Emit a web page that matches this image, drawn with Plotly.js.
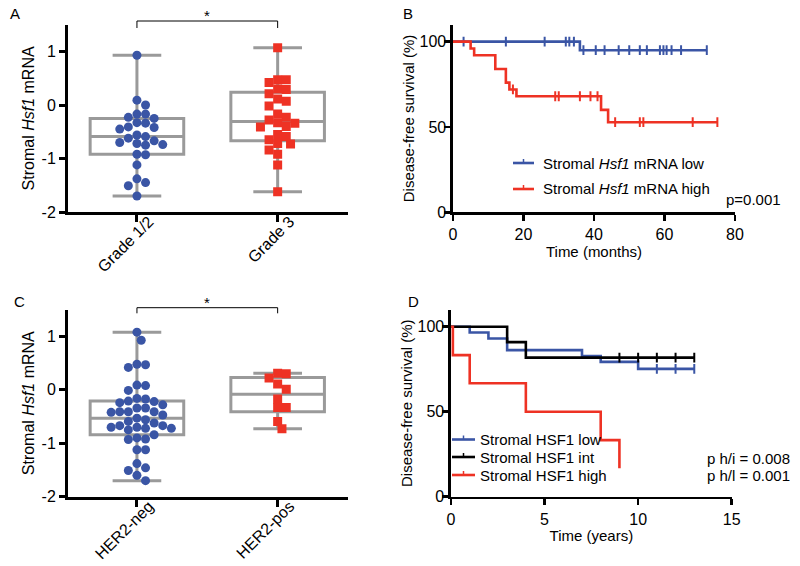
<!DOCTYPE html>
<html><head><meta charset="utf-8">
<script src="https://cdn.plot.ly/plotly-3.0.1.min.js"></script>
<style>html,body{margin:0;padding:0;background:#fff}#chart{width:800px;height:566px}</style>
</head><body><div id="chart"></div>
<script>
// ---------- Panel A : stromal Hsf1 mRNA by grade ----------
const gradeCategories = ['Grade 1/2', 'Grade 3'];
const grade12Values = [0.93, 0.09, 0.00, -0.17, -0.17, -0.23, -0.25, -0.33, -0.34, -0.41, -0.42, -0.45, -0.56, -0.59, -0.62, -0.67, -0.70, -0.72, -0.74, -0.75, -0.92, -0.93, -1.12, -1.38, -1.45, -1.51, -1.70];
const grade3Values = [1.07, 0.47, 0.47, 0.42, 0.30, 0.29, 0.21, 0.11, 0.07, -0.02, -0.17, -0.23, -0.28, -0.33, -0.34, -0.40, -0.41, -0.55, -0.59, -0.65, -0.72, -0.73, -0.84, -0.92, -1.12, -1.62];
// box statistics: [lower whisker, Q1, median, Q3, upper whisker]
const grade12Box = [-1.70, -0.92, -0.59, -0.25, 0.93];
const grade3Box = [-1.62, -0.67, -0.31, 0.24, 1.07];

// ---------- Panel C : stromal Hsf1 mRNA by HER2 status ----------
const her2Categories = ['HER2-neg', 'HER2-pos'];
const her2NegValues = [1.08, 0.93, 0.48, 0.47, 0.42, 0.09, 0.08, -0.01, -0.16, -0.17, -0.21, -0.22, -0.24, -0.28, -0.34, -0.34, -0.41, -0.41, -0.41, -0.42, -0.47, -0.53, -0.56, -0.59, -0.62, -0.67, -0.67, -0.70, -0.70, -0.72, -0.72, -0.75, -0.84, -0.90, -0.92, -0.93, -1.12, -1.12, -1.38, -1.46, -1.51, -1.60, -1.70];
const her2PosValues = [0.31, 0.30, 0.22, 0.11, 0.01, -0.17, -0.33, -0.33, -0.59, -0.73];
const her2NegBox = [-1.70, -0.84, -0.53, -0.21, 1.08];
const her2PosBox = [-0.73, -0.41, -0.08, 0.23, 0.31];

// ---------- Panel B : Kaplan-Meier, months ----------
const bNames = ['Stromal <i>Hsf1</i> mRNA low', 'Stromal <i>Hsf1</i> mRNA high'];
const bLowTimes = [0, 36];
const bLowSurv = [100, 95];
const bLowEnd = 72;
const bLowCensor = [3, 15, 26, 32, 33, 34.3, 37, 40.5, 43, 47, 50, 53, 55, 58.7, 59.7, 60.6, 62, 64.7, 72];
const bHighTimes = [0, 5, 6, 12, 15, 16, 18, 42, 44];
const bHighSurv = [100, 96, 92, 84, 76, 72, 68, 60, 52.8];
const bHighEnd = 75;
const bHighCensor = [17, 29, 30, 36, 39, 41, 46, 53, 54, 68, 75];
const bPText = 'p=0.001';

// ---------- Panel D : Kaplan-Meier, years ----------
const dNames = ['Stromal HSF1 low', 'Stromal HSF1 int', 'Stromal HSF1 high'];
const dLowTimes = [0, 1, 2, 3, 7, 8, 10];
const dLowSurv = [100, 96.6, 93.1, 86.2, 82.8, 79.3, 75.2];
const dLowEnd = 13;
const dLowCensor = [11, 12, 13];
const dIntTimes = [0, 3, 4];
const dIntSurv = [100, 90.9, 81.8];
const dIntEnd = 13;
const dIntCensor = [9, 10, 11, 12, 13];
const dHighTimes = [0, 0.1, 1, 4, 8, 9];
const dHighSurv = [100, 83.3, 66.7, 50, 33.3, 16.7];
const dHighEnd = 9;
const dHighCensor = [];
const dPTexts = ['p h/i = 0.008', 'p h/l = 0.001'];

const panelLabels = ['A', 'B', 'C', 'D'];

// ---------- styling ----------
const W = 800, H = 566;
const BLUE = '#3a55a5', RED = '#ee3224', BLACK = '#000000', GRAY = '#9a9a9a';
const FONT = 'Liberation Sans, Arial, Helvetica, sans-serif';
const px = v => v / W;            // horizontal pixel -> paper
const py = v => 1 - v / H;        // vertical pixel (from top) -> paper

const domA = {x: [px(68), px(348)], y: [py(212), py(24.75)]};
const domB = {x: [px(453), px(735)], y: [py(212.3), py(24.6)]};
const domC = {x: [px(68), px(348)], y: [py(496.7), py(309.75)]};
const domD = {x: [px(451), px(731.7)], y: [py(496.7), py(309.7)]};
const catRange = [-0.49, 1.5], mrnaRange = [-2, 1.5];

// deterministic beeswarm, computed in pixel space from the axis scales
function swarm(values, dom, xr, yr, diam) {
  const pxX = (dom.x[1] - dom.x[0]) * W / (xr[1] - xr[0]);
  const pxY = (dom.y[1] - dom.y[0]) * H / (yr[1] - yr[0]);
  const order = values.map((v, i) => i).sort((a, b) => values[b] - values[a]);
  const placed = [], off = new Array(values.length);
  const step = diam / 2;
  for (const i of order) {
    const y = values[i] * pxY;
    for (let k = 0; k < 80; k++) {
      const m = k === 0 ? 0 : (k % 2 ? Math.ceil(k / 2) : -k / 2);
      const x = m * step;
      if (placed.every(p => Math.hypot(p.x - x, p.y - y) >= diam * 0.98)) {
        placed.push({x, y}); off[i] = x / pxX; break;
      }
    }
  }
  return off;
}

function boxTrace(stats, pos, xa, ya) {
  return {type: 'box', x: [pos], lowerfence: [stats[0]], q1: [stats[1]], median: [stats[2]],
    q3: [stats[3]], upperfence: [stats[4]], width: 0.665, whiskerwidth: 0.52,
    line: {color: GRAY, width: 3}, fillcolor: 'rgba(0,0,0,0)', boxpoints: false,
    xaxis: xa, yaxis: ya, showlegend: false, hoverinfo: 'skip'};
}
function dotTrace(values, pos, dom, color, symbol, xa, ya) {
  const off = swarm(values, dom, catRange, mrnaRange, 8.6);
  return {type: 'scatter', mode: 'markers', x: values.map((v, i) => pos + off[i]), y: values,
    marker: {color: color, size: 9, symbol: symbol, line: {width: 0}},
    xaxis: xa, yaxis: ya, showlegend: false, hoverinfo: 'y'};
}
function kmTraces(times, surv, end, censor, color, xa, ya) {
  const xs = times.slice(), ys = surv.slice();
  if (end > times[times.length - 1]) { xs.push(end); ys.push(surv[surv.length - 1]); }
  const survAt = t => { let s = surv[0]; times.forEach((tt, i) => { if (tt <= t) s = surv[i]; }); return s; };
  return [
    {type: 'scatter', mode: 'lines', x: xs, y: ys, line: {shape: 'hv', color: color, width: 2.6},
      xaxis: xa, yaxis: ya, showlegend: false, hoverinfo: 'x+y'},
    {type: 'scatter', mode: 'markers', x: censor, y: censor.map(survAt),
      marker: {symbol: 'line-ns', size: 7, line: {color: color, width: 2}},
      xaxis: xa, yaxis: ya, showlegend: false, hoverinfo: 'x+y'}
  ];
}

const data = [
  boxTrace(grade12Box, 0, 'x', 'y'), boxTrace(grade3Box, 1, 'x', 'y'),
  dotTrace(grade12Values, 0, domA, BLUE, 'circle', 'x', 'y'),
  dotTrace(grade3Values, 1, domA, RED, 'square', 'x', 'y'),
  boxTrace(her2NegBox, 0, 'x3', 'y3'), boxTrace(her2PosBox, 1, 'x3', 'y3'),
  dotTrace(her2NegValues, 0, domC, BLUE, 'circle', 'x3', 'y3'),
  dotTrace(her2PosValues, 1, domC, RED, 'square', 'x3', 'y3'),
  ...kmTraces(bLowTimes, bLowSurv, bLowEnd, bLowCensor, BLUE, 'x2', 'y2'),
  ...kmTraces(bHighTimes, bHighSurv, bHighEnd, bHighCensor, RED, 'x2', 'y2'),
  ...kmTraces(dLowTimes, dLowSurv, dLowEnd, dLowCensor, BLUE, 'x4', 'y4'),
  ...kmTraces(dIntTimes, dIntSurv, dIntEnd, dIntCensor, BLACK, 'x4', 'y4'),
  ...kmTraces(dHighTimes, dHighSurv, dHighEnd, dHighCensor, RED, 'x4', 'y4')
];

function axisBase(lw) {
  return {showline: true, linecolor: BLACK, linewidth: lw, ticks: 'outside', tickcolor: BLACK,
    tickwidth: lw, ticklen: 6, showgrid: false, zeroline: false, fixedrange: true,
    tickfont: {family: FONT, size: 16, color: BLACK}};
}
const mrnaTicks = [-2, -1, 0, 1];
const mrnaTickText = mrnaTicks.map(String);
const survTicks = [0, 50, 100];
const catAxis = {tickangle: -45, ticklen: 7, ticklabelshift: 12, ticklabelstandoff: -16,
  tickfont: {family: FONT, size: 16, color: BLACK}};

const layout = {
  width: W, height: H, margin: {l: 0, r: 0, t: 0, b: 0},
  paper_bgcolor: '#fff', plot_bgcolor: 'rgba(0,0,0,0)',
  font: {family: FONT, color: BLACK, size: 15}, showlegend: false,
  xaxis: Object.assign(axisBase(3), catAxis, {domain: domA.x, anchor: 'y', range: catRange,
    tickvals: [0, 1], ticktext: gradeCategories}),
  yaxis: Object.assign(axisBase(3), {domain: domA.y, anchor: 'x', range: mrnaRange,
    tickvals: mrnaTicks, ticktext: mrnaTickText,
    title: {text: 'Stromal <i>Hsf1</i> mRNA', standoff: 3, font: {family: FONT, size: 16, color: BLACK}}}),
  xaxis3: Object.assign(axisBase(3), catAxis, {domain: domC.x, anchor: 'y3', range: catRange,
    tickvals: [0, 1], ticktext: her2Categories}),
  yaxis3: Object.assign(axisBase(3), {domain: domC.y, anchor: 'x3', range: mrnaRange,
    tickvals: mrnaTicks, ticktext: mrnaTickText,
    title: {text: 'Stromal <i>Hsf1</i> mRNA', standoff: 3, font: {family: FONT, size: 16, color: BLACK}}}),
  xaxis2: Object.assign(axisBase(2.6), {domain: domB.x, anchor: 'y2', range: [0, 80],
    tickvals: [0, 20, 40, 60, 80], title: {text: 'Time (months)', standoff: 0, font: {family: FONT, size: 15}}}),
  yaxis2: Object.assign(axisBase(2.6), {domain: domB.y, anchor: 'x2', range: [0, 110],
    tickvals: survTicks, ticklabelstandoff: -5,
    title: {text: 'Disease-free survival (%)', standoff: 2, font: {family: FONT, size: 15}}}),
  xaxis4: Object.assign(axisBase(2.6), {domain: domD.x, anchor: 'y4', range: [0, 15],
    tickvals: [0, 5, 10, 15], title: {text: 'Time (years)', standoff: 0, font: {family: FONT, size: 15}}}),
  yaxis4: Object.assign(axisBase(2.6), {domain: domD.y, anchor: 'x4', range: [0, 110],
    tickvals: survTicks, ticklabelstandoff: -5,
    title: {text: 'Disease-free survival (%)', standoff: 2, font: {family: FONT, size: 15}}}),
  shapes: [], annotations: []
};

// significance brackets
[[0, 1, 'x', 21, 28], [0, 1, 'x3', 307.7, 313.3]].forEach(b => {
  layout.shapes.push({type: 'path', xref: b[2], yref: 'paper',
    path: `M ${b[0]},${py(b[4])} L ${b[0]},${py(b[3])} L ${b[1]},${py(b[3])} L ${b[1]},${py(b[4])}`,
    line: {color: BLACK, width: 1}});
});
layout.annotations.push({xref: 'x', yref: 'paper', x: 0.5, y: py(16), text: '*', showarrow: false,
  font: {size: 15}, xanchor: 'center', yanchor: 'middle'});
layout.annotations.push({xref: 'x3', yref: 'paper', x: 0.5, y: py(302), text: '*', showarrow: false,
  font: {size: 15}, xanchor: 'center', yanchor: 'middle'});

// panel letters
[[8, 13], [401, 14], [12, 301], [406, 301]].forEach((p, i) => {
  layout.annotations.push({xref: 'paper', yref: 'paper', x: px(p[0]), y: py(p[1]), text: panelLabels[i],
    showarrow: false, xanchor: 'left', yanchor: 'middle', font: {size: 15}});
});

// legends drawn as keys
function legendKey(name, color, x0, x1, xt, y) {
  layout.shapes.push({type: 'line', xref: 'paper', yref: 'paper', x0: px(x0), x1: px(x1), y0: py(y), y1: py(y),
    line: {color: color, width: 2.6}});
  const xm = (x0 + x1) / 2;
  layout.shapes.push({type: 'line', xref: 'paper', yref: 'paper', x0: px(xm), x1: px(xm), y0: py(y), y1: py(y - 4),
    line: {color: color, width: 1.5}});
  layout.annotations.push({xref: 'paper', yref: 'paper', x: px(xt), y: py(y), text: name, showarrow: false,
    xanchor: 'left', yanchor: 'middle', font: {size: 15}});
}
legendKey(bNames[0], BLUE, 513, 534, 541, 163);
legendKey(bNames[1], RED, 513, 534, 541, 189);
legendKey(dNames[0], BLUE, 452, 475, 478, 439.5);
legendKey(dNames[1], BLACK, 452, 475, 478, 457);
legendKey(dNames[2], RED, 452, 475, 478, 475);

layout.annotations.push({xref: 'paper', yref: 'paper', x: px(724), y: py(199), text: bPText, showarrow: false,
  xanchor: 'left', yanchor: 'middle', font: {size: 15}});
layout.annotations.push({xref: 'paper', yref: 'paper', x: px(705), y: py(458), text: dPTexts[0], showarrow: false,
  xanchor: 'left', yanchor: 'middle', font: {size: 15}});
layout.annotations.push({xref: 'paper', yref: 'paper', x: px(705), y: py(475), text: dPTexts[1], showarrow: false,
  xanchor: 'left', yanchor: 'middle', font: {size: 15}});

Plotly.newPlot('chart', data, layout, {displayModeBar: false, staticPlot: true});
</script></body></html>
